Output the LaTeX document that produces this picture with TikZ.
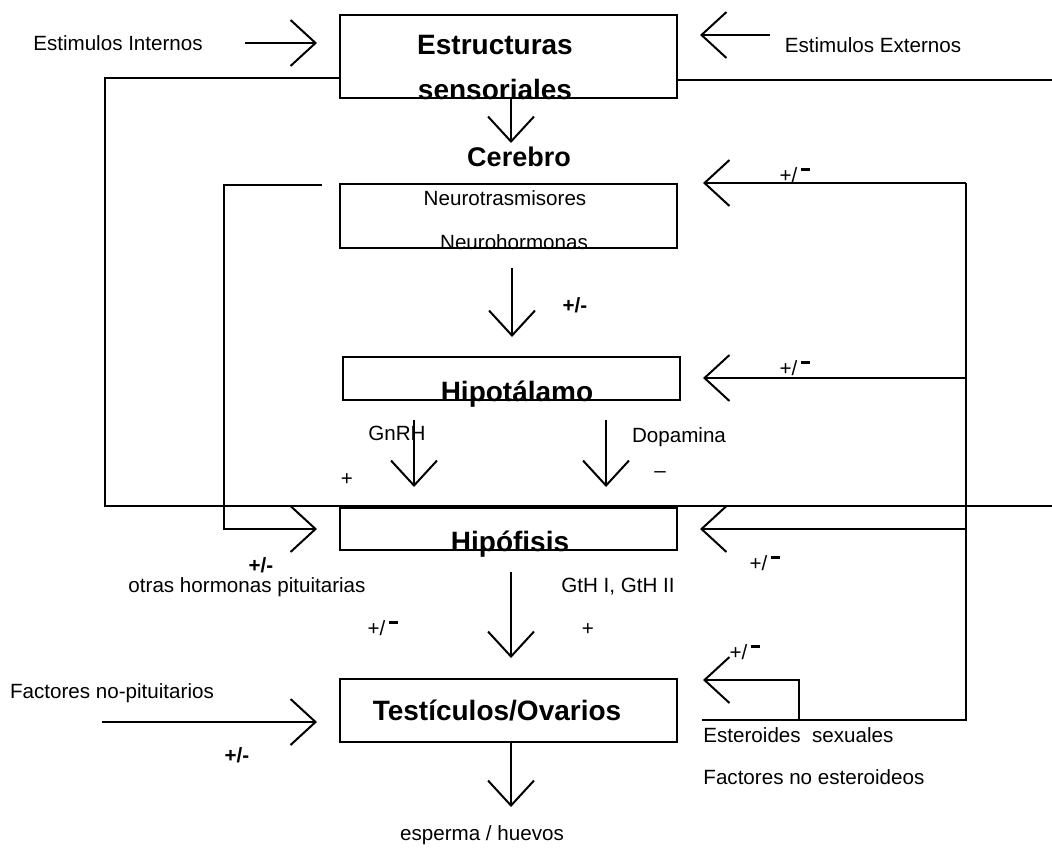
\documentclass[tikz,border=0pt]{standalone}
\usepackage{fontspec}
\setmainfont{Liberation Sans}
\usetikzlibrary{arrows.meta,fit,positioning}

\tikzset{
  caja/.style={draw, line width=1pt, inner sep=0pt},
  linea/.style={line width=1pt},
  flecha/.style={line width=1pt, -{Straight Barb[length=12.5pt,width=23pt]}},
  titulo/.style={font=\fontsize{14}{16}\selectfont\bfseries, inner sep=0pt},
  texto/.style={font=\fontsize{10.3}{12}\selectfont, inner sep=0pt},
  signo/.style={font=\fontsize{10.3}{12}\selectfont\bfseries, inner sep=0pt}
}
\newcommand{\masmenos}{+/\hspace{2pt}\raisebox{1.05ex}{\rule{4.5pt}{1.5pt}}}

\begin{document}
\begin{tikzpicture}[x=0.5pt,y=-0.5pt]
\useasboundingbox (0,0) rectangle (1052,851);
% cajas
\node[caja, fit={(340,15) (677,98)}] (est) {};
\node[caja, fit={(340,184) (677,248)}] (neuro) {};
\node[caja, fit={(343,357) (680,400)}] (hipot) {};
\node[caja, fit={(340,508) (677,550)}] (hipof) {};
\node[caja, fit={(340,679) (677,742)}] (gonad) {};
% textos de las cajas
\node[titulo] (tEst) at (495,45) {Estructuras};
\node[titulo, anchor=base] (tSens) at (495,99) {sensoriales};
\node[titulo, font=\fontsize{13.5}{16}\selectfont\bfseries] (tCer) at (519,157) {Cerebro};
\node[texto] (tNt) at (505,198) {Neurotrasmisores};
\node[texto, anchor=base] (tNh) at (514,249) {Neurohormonas};
\node[titulo, anchor=base] (tHipot) at (517,401) {Hipotálamo};
\node[titulo, anchor=base] (tHipof) at (510,551) {Hipófisis};
\node[titulo] (tGon) at (497,710) {Testículos/Ovarios};
% etiquetas
\node[texto] (lEi) at (118,43) {Estimulos Internos};
\node[texto] (lEe) at (873,45) {Estimulos Externos};
\node[signo] (sNh) at (575,305) {+/-};
\node[texto] (lGn) at (397,433) {GnRH};
\node[texto] (lDo) at (679,437) {Dopamina};
\node[texto] (sGn) at (347,480) {+};
\node[texto] (sDo) at (660,475) {--};
\node[signo] (sOh) at (261,565) {+/-};
\node[texto] (lOh) at (247,587) {otras hormonas pituitarias};
\node[texto] (lGt) at (618,587) {GtH I, GtH II};
\node[texto] (sGt) at (588,630) {+};
\node[texto] (sHg) at (383,628) {\masmenos};
\node[texto] (lFp) at (112,693) {Factores no-pituitarios};
\node[signo] (sFp) at (237,755) {+/-};
\node[texto] (lEsp) at (482,835) {esperma / huevos};
\node[texto] (sR1) at (795,175) {\masmenos};
\node[texto] (sR2) at (795,368) {\masmenos};
\node[texto] (sR3) at (765,563) {\masmenos};
\node[texto] (sR4) at (745,652) {\masmenos};
\node[texto, anchor=west] (lEs) at (703,735) {Esteroides\ \ sexuales};
\node[texto, anchor=west] (lFe) at (703,777) {Factores no esteroideos};
% puntos libres
\coordinate (ei0) at (245,43);  \coordinate (ei1) at (317,43);
\coordinate (ee0) at (770,35);  \coordinate (ee1) at (700,35);
\coordinate (c0) at (511,98);   \coordinate (c1) at (511,143);
\coordinate (n0) at (512,268);  \coordinate (n1) at (512,337);
\coordinate (g0) at (414,420);  \coordinate (g1) at (414,487);
\coordinate (d0) at (606,420);  \coordinate (d1) at (606,487);
\coordinate (h0) at (511,572);  \coordinate (h1) at (511,658);
\coordinate (o1) at (511,807);
\coordinate (fp0) at (102,722); \coordinate (fp1) at (317,722);
\coordinate (oa) at (340,78);   \coordinate (ob) at (105,78);
\coordinate (oc) at (105,506);  \coordinate (od) at (1052,506);
\coordinate (oe) at (677,80);   \coordinate (of) at (1052,80);
\coordinate (ia) at (322,185);  \coordinate (ib) at (224,185);
\coordinate (ic) at (224,529);  \coordinate (id) at (317,529);
\coordinate (derTop) at (966,183); \coordinate (derBot) at (966,720);
\coordinate (fbNeuro) at (703,183); \coordinate (fbHipot) at (703,378);
\coordinate (fbHipof) at (700,529); \coordinate (fbGon) at (703,680);
\coordinate (esBot) at (702,720); \coordinate (paso) at (799,720);
% flechas
\draw[flecha] (ei0) -- (ei1);
\draw[flecha] (ee0) -- (ee1);
\draw[flecha] (c0) -- (c1);
\draw[flecha] (n0) -- (n1);
\draw[flecha] (g0) -- (g1);
\draw[flecha] (d0) -- (d1);
\draw[flecha] (h0) -- (h1);
\draw[flecha] (gonad.south -| o1) -- (o1);
\draw[flecha] (fp0) -- (fp1);
% lazos
\draw[linea] (oa) -- (ob) -- (oc) -- (od);
\draw[linea] (oe) -- (of);
\draw[flecha] (ia) -- (ib) -- (ic) -- (id);
\draw[linea] (derTop) -- (derBot) -- (esBot);
\draw[flecha] (derTop) -- (fbNeuro);
\draw[flecha] (derTop |- fbHipot) -- (fbHipot);
\draw[flecha] (derTop |- fbHipof) -- (fbHipof);
\draw[flecha] (paso) |- (fbGon);
\end{tikzpicture}
\end{document}
